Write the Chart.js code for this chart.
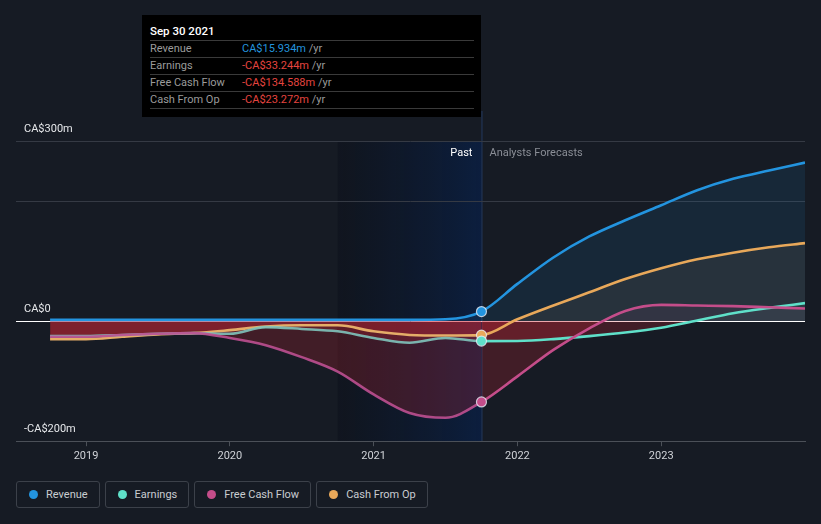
<!DOCTYPE html>
<html lang="en">
<head>
<meta charset="UTF-8">
<title>Earnings and Revenue Growth</title>
<script src="https://cdn.jsdelivr.net/npm/chart.js"></script>
<style>
  body { margin: 0; background: #161b24; font-family: Roboto, "Open Sans", sans-serif; }
  #wrap { position: relative; width: 821px; height: 524px; overflow: hidden; }
  #chart { position: absolute; left: 0; top: 0; }
  /* tooltip box */
  .tip { position: absolute; left: 142px; top: 15px; width: 339px; height: 102px; background: #000; font-size: 11px; }
  .tip .title { padding: 7px 0 0 8px; height: 18px; line-height: 18px; color: #fff; font-weight: 500; font-size: 11.5px; }
  .tip .rows { margin: 0 7px 0 8px; border-bottom: 1px solid #3a3a3a; }
  .tip .row { border-top: 1px solid #3a3a3a; height: 16px; line-height: 16px; color: #9b9b9b; white-space: nowrap; }
  .tip .row .lab { display: inline-block; width: 92px; }
  /* legend */
  .legend { position: absolute; left: 16px; top: 481px; display: flex; gap: 5px; }
  .legend .item { height: 25px; border: 1px solid #3c414a; border-radius: 3px; padding: 0 11px 0 12px; display: flex; align-items: center; color: #c9ccd1; font-size: 11px; }
  .legend .dot { width: 9px; height: 9px; border-radius: 50%; margin-right: 8px; }
</style>
</head>
<body>
<div id="wrap">
  <canvas id="chart" width="821" height="466"></canvas>
  <div class="tip">
    <div class="title" id="tipTitle"></div>
    <div class="rows" id="tipRows"></div>
  </div>
  <div class="legend" id="legend"></div>
</div>

<script>
// --- data (CA$ millions, x = decimal year) ---
const years = [2018.75, 2019, 2019.25, 2019.5, 2019.75, 2020, 2020.25, 2020.5, 2020.75, 2021, 2021.25, 2021.5, 2021.75,
               2022, 2022.25, 2022.5, 2022.75, 2023, 2023.25, 2023.5, 2023.75, 2024];
const revenue      = [2, 2, 2, 2, 2, 2, 2, 2, 2, 2, 2, 3, 15.934, 62, 106, 141, 168, 193, 218, 237, 251, 264];
const earnings     = [-25, -25, -23, -21, -20, -21, -10, -13, -17, -28, -36, -28, -33.244, -33, -30, -25, -19, -11, 1, 13, 22, 30];
const freeCashFlow = [-26, -26, -23, -21, -20, -28, -40, -60, -84, -122, -153, -161, -134.588, -92, -48, -12, 17, 27, 26, 25, 23, 21];
const cashFromOp   = [-30, -30, -26, -22, -20, -15, -9, -7, -7, -17, -23, -24, -23.272, 3, 26, 48, 70, 88, 103, 114, 123, 130];

const seriesNames = ['Revenue', 'Earnings', 'Free Cash Flow', 'Cash From Op'];
const xTickValues = [2019, 2020, 2021, 2022, 2023];
const xTickLabels = ['2019', '2020', '2021', '2022', '2023'];
const yTickValues = [-200, 0, 200, 300];
const yTickLabels = ['-CA$200m', 'CA$0', '', 'CA$300m'];

const pastStart = 2020.75;
const pastEnd = 2021.75;
const tipDate = 'Sep 30 2021';

const colors = {
  Revenue: '#2394df',
  Earnings: '#5fe0c9',
  'Free Cash Flow': '#c44d8a',
  'Cash From Op': '#e8a85a'
};
const pastColors = {
  Revenue: '#2394df',
  Earnings: 'rgba(127,196,188,0.9)',
  'Free Cash Flow': 'rgba(190,80,145,0.9)',
  'Cash From Op': '#e5ad68'
};
const fillAbove = {
  Revenue: 'rgba(35,148,223,0.11)',
  Earnings: 'rgba(95,224,201,0.06)',
  'Free Cash Flow': 'rgba(196,77,138,0.08)',
  'Cash From Op': 'rgba(232,168,90,0.09)'
};
const fillBelow = 'rgba(210,40,50,0.23)';

const allSeries = [revenue, earnings, freeCashFlow, cashFromOp];
const drawOrder = [0, 2, 1, 3]; // revenue on top, fcf lowest

function makeDataset(name, values, order) {
  return {
    label: name,
    data: years.map((x, i) => ({ x: x, y: values[i] })),
    borderColor: colors[name],
    borderWidth: 2.6,
    cubicInterpolationMode: 'monotone',
    segment: {
      borderColor: ctx => ctx.p1.parsed.x <= pastEnd ? pastColors[name] : colors[name]
    },
    fill: { target: 'origin', above: fillAbove[name], below: fillBelow },
    pointRadius: ctx => (ctx.raw && ctx.raw.x === pastEnd) ? 5 : 0,
    pointHoverRadius: 0,
    pointBackgroundColor: colors[name],
    pointBorderColor: 'rgba(230,235,245,0.8)',
    pointBorderWidth: 1.2,
    order: order
  };
}

const datasets = seriesNames.map((n, i) => makeDataset(n, allSeries[i], drawOrder[i]));

// past shading, divider line and the Past / Forecast labels
const pastPlugin = {
  id: 'pastPlugin',
  beforeDraw(chart) {
    const { ctx, chartArea, scales } = chart;
    const x0 = scales.x.getPixelForValue(pastStart);
    const x1 = scales.x.getPixelForValue(pastEnd);
    ctx.save();
    const g = ctx.createLinearGradient(x0, 0, x1, 0);
    g.addColorStop(0, 'rgba(5,10,20,0.3)');
    g.addColorStop(1, 'rgba(0,35,95,0.45)');
    ctx.fillStyle = g;
    ctx.fillRect(x0, chartArea.top, x1 - x0, chartArea.bottom - chartArea.top);
    ctx.strokeStyle = 'rgba(40,70,120,0.7)';
    ctx.lineWidth = 1;
    ctx.beginPath();
    ctx.moveTo(x1 + 0.5, chartArea.top - 30);
    ctx.lineTo(x1 + 0.5, chartArea.bottom);
    ctx.stroke();
    ctx.font = '11px Roboto';
    ctx.textBaseline = 'middle';
    ctx.fillStyle = '#ffffff';
    ctx.textAlign = 'right';
    ctx.fillText('Past', x1 - 9, chartArea.top + 12);
    ctx.fillStyle = '#8a8e96';
    ctx.textAlign = 'left';
    ctx.fillText('Analysts Forecasts', x1 + 8, chartArea.top + 12);
    ctx.restore();
  }
};

new Chart(document.getElementById('chart'), {
  type: 'line',
  data: { datasets: datasets },
  options: {
    responsive: false,
    animation: false,
    devicePixelRatio: 1,
    layout: { padding: { left: 0, right: 16, top: 141, bottom: 0.6 } },
    plugins: {
      legend: { display: false },
      tooltip: { enabled: false },
      filler: { drawTime: 'beforeDatasetsDraw' }
    },
    scales: {
      x: {
        type: 'linear',
        min: 2018.513,
        max: 2024,
        afterBuildTicks: axis => { axis.ticks = xTickValues.map(v => ({ value: v })); },
        ticks: {
          color: '#d0d3d8',
          font: { family: 'Roboto', size: 11 },
          padding: 3,
          maxRotation: 0,
          callback: v => xTickLabels[xTickValues.indexOf(v)]
        },
        grid: { drawOnChartArea: false, drawTicks: true, tickLength: 5, color: '#4b5058' },
        border: { color: '#4b5058' }
      },
      y: {
        type: 'linear',
        min: -200,
        max: 300,
        afterBuildTicks: axis => { axis.ticks = yTickValues.map(v => ({ value: v })); },
        ticks: {
          mirror: true,
          padding: 8,
          labelOffset: -12,
          color: '#e6e8eb',
          font: { family: 'Roboto', size: 11 },
          callback: v => yTickLabels[yTickValues.indexOf(v)]
        },
        grid: {
          drawTicks: false,
          color: ctx => ctx.tick.value === 0 ? '#ffffff' : (ctx.tick.value === -200 ? 'rgba(0,0,0,0)' : '#353a44')
        },
        border: { display: false }
      }
    }
  },
  plugins: [pastPlugin]
});

// tooltip rows, read from the data at the last reported point
const idx = years.indexOf(pastEnd);
function fmt(v) {
  return (v < 0 ? '-' : '') + 'CA$' + Math.abs(v).toFixed(3) + 'm';
}
document.getElementById('tipTitle').textContent = tipDate;
const rows = document.getElementById('tipRows');
seriesNames.forEach((n, i) => {
  const v = allSeries[i][idx];
  const row = document.createElement('div');
  row.className = 'row';
  row.innerHTML = '<span class="lab">' + n + '</span><span style="color:' +
    (v < 0 ? '#e5443f' : '#2394df') + '">' + fmt(v) + '</span> /yr';
  rows.appendChild(row);
});

// legend
const legend = document.getElementById('legend');
seriesNames.forEach(n => {
  const item = document.createElement('div');
  item.className = 'item';
  item.innerHTML = '<span class="dot" style="background:' + colors[n] + '"></span>' + n;
  legend.appendChild(item);
});
</script>
</body>
</html>
